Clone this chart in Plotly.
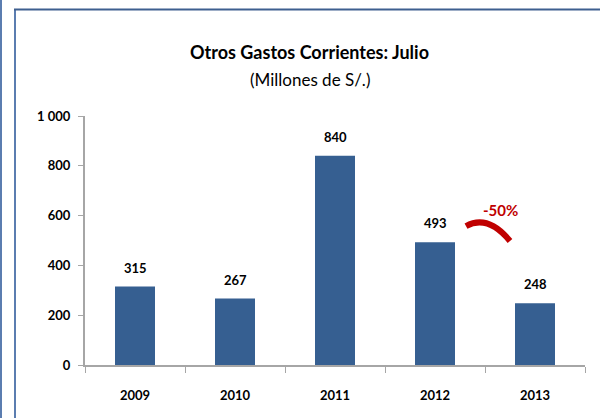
import plotly.graph_objects as go

years = ["2009", "2010", "2011", "2012", "2013"]
values = [315, 267, 840, 493, 248]
y_ticks = [0, 200, 400, 600, 800, 1000]
title_text = "Otros Gastos Corrientes: Julio"
subtitle_text = "(Millones de S/.)"
change_label = "-50%"

W, H = 600, 418
L, R, T, B = 85, 15, 116, 53
PW, PH = W - L - R, H - T - B

def px_x(x):
    return (x - L) / PW

def px_y(y):
    return (H - B - y) / PH

FONT = "Lato"
BAR = "#365F91"
AX = "#A6A6A6"

fig = go.Figure()
fig.add_trace(go.Bar(x=years, y=values, marker=dict(color=BAR, line=dict(width=0)),
                     width=0.4, hoverinfo="skip"))

for i, v in enumerate(values):
    fig.add_annotation(x=i, y=v, text=str(v), showarrow=False, xref="x", yref="y",
                       yanchor="bottom", yshift=9,
                       font=dict(family=FONT, size=13, color="#000000", weight="bold"))

# change annotation between last two years
fig.add_annotation(x=3.65, y=622, text=change_label, showarrow=False,
                   xref="x", yref="y",
                   font=dict(family=FONT, size=15, color="#C00000", weight="bold"))
fig.add_shape(type="path", xref="x", yref="y",
              path="M 3.31,558 Q 3.53,606 3.75,498",
              line=dict(color="#C00000", width=6))

fig.add_annotation(x=px_x(309), y=px_y(39), xref="paper", yref="paper",
                   text=title_text, showarrow=False,
                   font=dict(family=FONT, size=18, color="#000000", weight="bold"))
fig.add_annotation(x=px_x(310), y=px_y(67), xref="paper", yref="paper",
                   text=subtitle_text, showarrow=False,
                   font=dict(family=FONT, size=17, color="#000000"))

# frame lines
fig.add_shape(type="line", xref="paper", yref="paper", x0=px_x(1), x1=px_x(1),
              y0=px_y(0), y1=px_y(H + 5), line=dict(color="#5B7DB0", width=2))
fig.add_shape(type="line", xref="paper", yref="paper", x0=px_x(15), x1=px_x(15),
              y0=px_y(9), y1=px_y(H + 5), line=dict(color="#5B7DB0", width=2))
fig.add_shape(type="line", xref="paper", yref="paper", x0=px_x(14), x1=px_x(W + 5),
              y0=px_y(9.5), y1=px_y(9.5), line=dict(color="#3E5F8F", width=2))

fig.update_layout(
    width=W, height=H, margin=dict(l=L, r=R, t=T, b=B, autoexpand=False),
    paper_bgcolor="white", plot_bgcolor="white", showlegend=False,
    separators=", ",
    xaxis=dict(type="category", tickson="boundaries", ticks="outside", ticklen=6,
               tickcolor=AX, showline=True, linecolor=AX, linewidth=2,
               showgrid=False, ticklabelstandoff=17, automargin=False,
               tickfont=dict(family=FONT, size=13, color="#000000", weight="bold"),
               range=[-0.5, 4.5]),
    yaxis=dict(range=[0, 1000], tickvals=y_ticks, ticks="outside", ticklen=5,
               tickcolor=AX, showline=True, linecolor=AX, linewidth=2,
               showgrid=False, zeroline=False, ticklabelstandoff=5,
               tickformat=",d", automargin=False,
               tickfont=dict(family=FONT, size=13, color="#000000", weight="bold")),
)

fig.write_html("out.html", config={"displayModeBar": False},
               post_script="document.body.style.margin='0';document.body.style.overflow='hidden';")
